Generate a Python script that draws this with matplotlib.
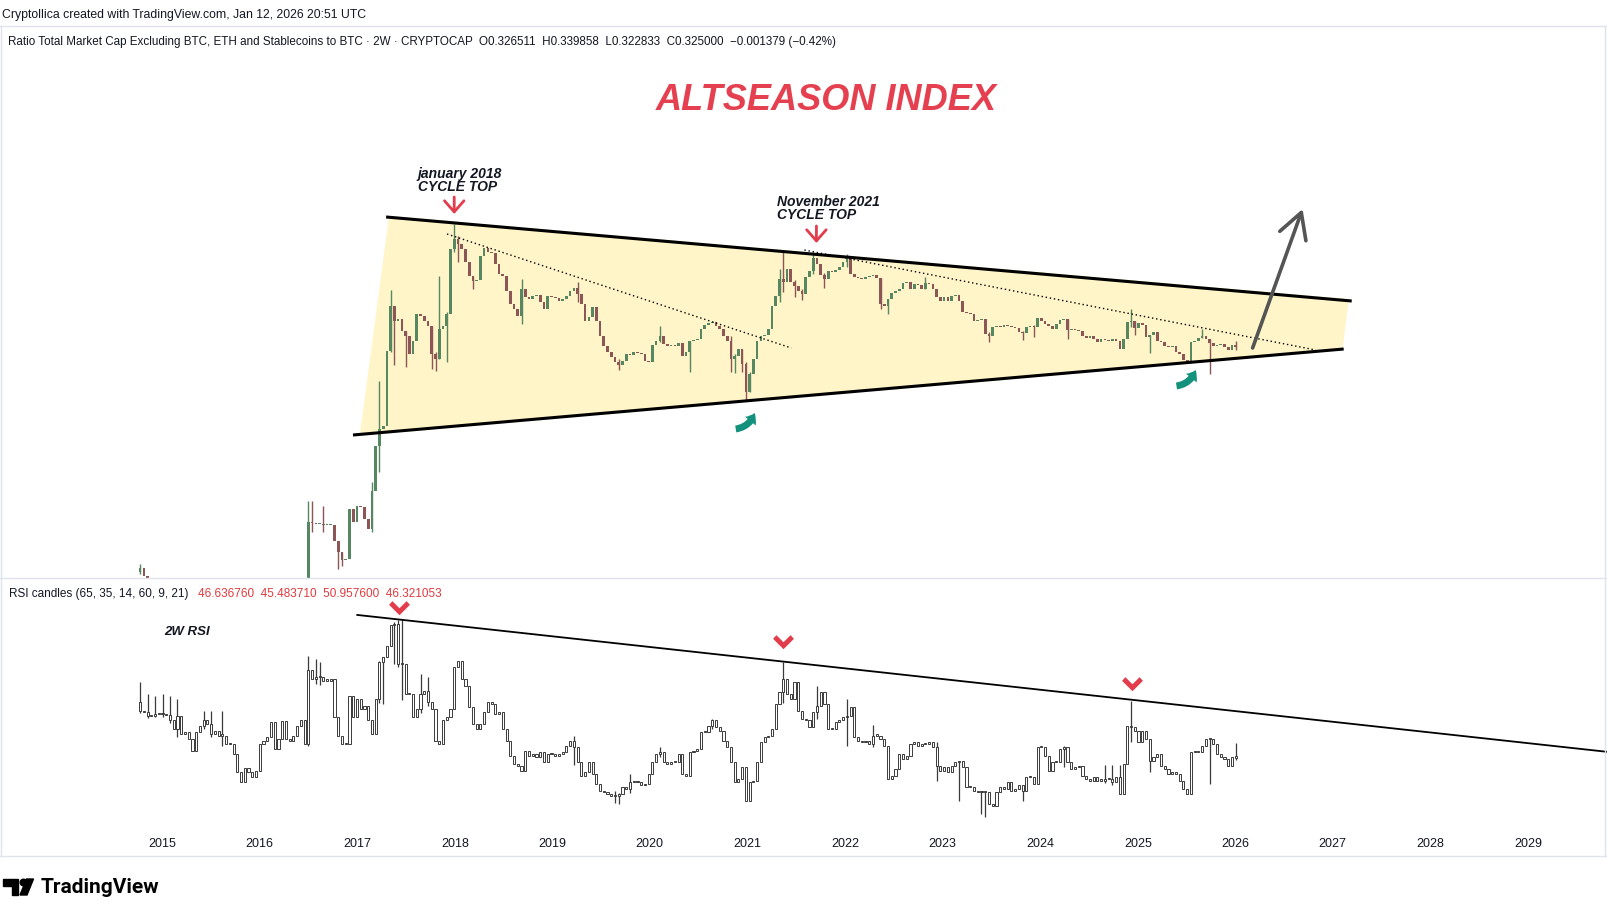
import numpy as np
import pandas as pd
import matplotlib
matplotlib.use('Agg')
import matplotlib.pyplot as plt
import matplotlib.dates as mdates
from matplotlib.patches import Polygon, FancyArrowPatch, Circle
from matplotlib.path import Path

plt.rcParams['font.family'] = ['Liberation Sans', 'DejaVu Sans']

# ---- data: 2W candles, first candle 2014-10-11 ----
first_candle = '2014-10-11'

price_open0 = 0.100
price_close = [
    0.104, 0.096, 0.091, 0.089, 0.090, 0.086, 0.083, 0.084, 0.080, 0.078,
    0.079, 0.076, 0.074, 0.075, 0.072, 0.071, 0.073, 0.070, 0.068, 0.069,
    0.067, 0.066, 0.068, 0.065, 0.066, 0.064, 0.066, 0.068, 0.067, 0.070,
    0.072, 0.071, 0.073, 0.076, 0.074, 0.077, 0.079, 0.078, 0.081, 0.083,
    0.082, 0.085, 0.087, 0.086, 0.089,
    # 2016 - 2020
    0.150, 0.149, 0.148, 0.148, 0.147, 0.147, 0.147, 0.131, 0.120, 0.112,
    0.113, 0.163, 0.150, 0.166, 0.165, 0.153, 0.143, 0.181, 0.226, 0.243,
    0.246, 0.321, 0.366, 0.351, 0.353, 0.341, 0.336, 0.318, 0.331, 0.358,
    0.356, 0.351, 0.346, 0.318, 0.313, 0.343, 0.346, 0.358, 0.423, 0.433,
    0.428, 0.423, 0.410, 0.396, 0.391, 0.392, 0.416, 0.424, 0.420, 0.419,
    0.408, 0.398, 0.396, 0.381, 0.368, 0.363, 0.356, 0.383, 0.375, 0.373,
    0.376, 0.377, 0.370, 0.363, 0.376, 0.375, 0.374, 0.371, 0.373, 0.376,
    0.381, 0.384, 0.378, 0.368, 0.351, 0.355, 0.365, 0.351, 0.336, 0.326,
    0.320, 0.315, 0.310, 0.307, 0.311, 0.318, 0.317, 0.320, 0.319, 0.318,
    0.311, 0.310, 0.327, 0.331, 0.336, 0.328, 0.326, 0.327, 0.326, 0.329,
    0.316, 0.320, 0.331, 0.332, 0.333, 0.343, 0.347, 0.349,
    # 2020 - 2023
    0.350, 0.346, 0.343, 0.336, 0.331, 0.313, 0.316, 0.323, 0.308, 0.280,
    0.298, 0.313, 0.331, 0.336, 0.337, 0.343, 0.366, 0.376, 0.393, 0.390,
    0.403, 0.390, 0.386, 0.381, 0.378, 0.395, 0.401, 0.414, 0.408, 0.397,
    0.393, 0.401, 0.400, 0.402, 0.405, 0.410, 0.413, 0.398, 0.395, 0.394,
    0.393, 0.395, 0.396, 0.397, 0.394, 0.368, 0.366, 0.373, 0.379, 0.381,
    0.383, 0.389, 0.390, 0.383, 0.388, 0.387, 0.383, 0.389, 0.388, 0.383,
    0.375, 0.371, 0.375, 0.371, 0.376, 0.377, 0.371, 0.360, 0.359, 0.358,
    0.351, 0.352, 0.353, 0.338, 0.336, 0.345, 0.346, 0.345, 0.347, 0.346,
    0.345, 0.344, 0.340, 0.339, 0.345, 0.346,
    # 2023 - 2026
    0.345, 0.354, 0.351, 0.348, 0.346, 0.343, 0.348, 0.352, 0.353, 0.342,
    0.343, 0.342, 0.341, 0.336, 0.334, 0.336, 0.333, 0.330, 0.333, 0.332,
    0.331, 0.333, 0.331, 0.323, 0.333, 0.350, 0.351, 0.344, 0.349, 0.347,
    0.335, 0.337, 0.340, 0.331, 0.330, 0.326, 0.325, 0.326, 0.320, 0.318,
    0.312, 0.310, 0.330, 0.331, 0.334, 0.336, 0.333, 0.329, 0.326, 0.327,
    0.328, 0.325, 0.322, 0.326511, 0.325000,
]
# candle index: (low, high) for the wicks that stand out
price_wicks = {
    0: (0.098, 0.108), 45: (0.089, 0.171), 46: (0.140, 0.171), 49: (0.140, 0.166),
    53: (0.103, 0.131), 54: (0.106, 0.120), 62: (0.140, 0.190), 64: (0.200, 0.291),
    67: (0.320, 0.382), 68: (0.307, 0.366), 71: (0.305, 0.341), 78: (0.303, 0.346),
    79: (0.301, 0.320), 80: (0.313, 0.396), 82: (0.310, 0.360), 84: (0.420, 0.448),
    85: (0.410, 0.436), 89: (0.383, 0.396), 102: (0.348, 0.393), 117: (0.370, 0.390),
    128: (0.302, 0.313), 139: (0.330, 0.346), 147: (0.300, 0.331),
    158: (0.300, 0.336), 159: (0.299, 0.318), 161: (0.300, 0.323), 162: (0.271, 0.310),
    163: (0.280, 0.300), 171: (0.370, 0.403), 172: (0.380, 0.420), 175: (0.375, 0.392),
    177: (0.372, 0.383), 180: (0.398, 0.420), 183: (0.384, 0.399), 189: (0.405, 0.418),
    198: (0.363, 0.394), 200: (0.358, 0.373), 210: (0.383, 0.395), 227: (0.330, 0.340),
    236: (0.332, 0.341), 239: (0.335, 0.347), 248: (0.333, 0.353), 265: (0.345, 0.363),
    266: (0.337, 0.351), 270: (0.319, 0.337), 284: (0.334, 0.343), 286: (0.298, 0.333),
    293: (0.322, 0.331),
}

rsi_open0 = 63.3
rsi_close = [
    60.7, 60.2, 59.0, 59.2, 59.7, 59.9, 59.7, 59.4, 57.7, 55.1,
    59.2, 53.6, 54.1, 52.0, 48.5, 54.1, 56.1, 57.7, 56.6, 53.6,
    54.6, 53.1, 53.1, 50.5, 50.5, 47.4, 41.8, 39.0, 43.1, 41.8,
    40.3, 42.3, 50.5, 51.5, 52.6, 57.2, 49.0, 52.0, 57.4, 52.0,
    51.5, 53.1, 56.1, 57.7, 50.5, 73.0, 70.4, 70.9, 70.9, 69.9,
    69.9, 70.4, 58.7, 53.1, 50.5, 50.5, 65.3, 58.7, 64.3, 61.2,
    62.2, 57.7, 53.6, 64.3, 75.5, 77.0, 80.6, 86.9, 87.2, 75.0,
    75.0, 65.8, 65.8, 58.7, 61.2, 65.8, 66.8, 63.3, 61.2, 51.5,
    50.5, 57.7, 58.7, 61.2, 74.0, 76.0, 70.4, 68.4, 61.7, 56.6,
    55.1, 56.6, 60.2, 63.3, 62.7, 59.7, 60.2, 55.1, 51.5, 46.9,
    44.4, 43.9, 42.3, 48.5, 46.9, 47.4, 46.4, 47.9, 44.9, 47.4,
    47.4, 46.9, 47.4, 47.9, 50.0, 51.5, 49.5, 44.9, 40.8, 41.8,
    44.9, 41.3, 38.3, 36.2, 35.7, 35.2, 34.5, 34.7, 35.2, 37.3,
    36.7, 38.8, 39.3, 38.8, 37.8, 38.3, 41.3, 44.9, 47.4, 47.9,
    44.9, 44.4, 44.9, 44.9, 47.4, 41.3, 40.8,
    47.9, 48.5, 49.0, 54.1, 54.3, 56.1, 57.7, 55.6, 54.6, 51.5,
    49.5, 44.9, 38.8, 39.8, 43.4, 33.2, 38.8, 39.3, 44.9, 51.0,
    52.6, 53.1, 55.1, 62.7, 66.3, 70.4, 65.8, 64.3, 69.4, 60.7,
    58.2, 57.7, 55.6, 60.2, 62.2, 66.3, 62.7, 55.1, 55.1, 57.2,
    57.7, 58.7, 59.2, 61.7, 52.6, 51.5, 51.0, 51.5, 50.5, 53.1,
    53.1, 52.0, 50.0, 39.8, 40.8, 42.9, 47.4, 45.9, 46.9, 50.5,
    51.0, 50.0, 50.5, 50.5, 51.0, 49.5, 43.9, 42.3, 43.4,
    41.8, 43.9, 44.9, 45.4, 43.4, 37.3, 37.3, 36.2, 35.7, 36.2,
    35.7, 32.1, 31.6, 35.7, 37.3, 36.7, 38.8, 36.2, 36.7,
    37.8, 36.2, 40.3, 40.3, 38.3, 49.5, 49.5, 46.9, 42.3, 44.9,
    44.9, 49.0, 49.5, 44.9, 42.9, 43.4, 43.9, 40.8, 39.8, 39.3,
    40.3, 39.3, 39.3, 39.8, 39.8, 38.8, 40.3, 35.2, 44.4,
    56.1, 55.6, 54.6, 51.0, 54.6, 52.0, 45.4, 46.4, 47.4, 43.9,
    42.9, 41.3, 41.8, 41.3, 39.3, 36.7, 35.2, 47.9, 47.9, 48.1,
    50.0, 52.0, 52.0, 50.5, 47.4, 46.4, 45.9, 43.9, 46.636760, 46.321053,
]
rsi_wicks = {
    0: (60.0, 69.4), 2: (58.5, 65.8), 4: (58.8, 65.3), 6: (58.9, 65.8), 8: (57.0, 65.3),
    10: (52.5, 64.3), 17: (55.0, 60.7), 19: (52.5, 60.7), 22: (50.0, 60.7),
    45: (50.0, 77.5), 47: (69.0, 76.5), 48: (68.5, 75.5), 64: (63.0, 76.0),
    65: (62.7, 76.0), 68: (75.0, 87.8), 69: (74.0, 88.3), 70: (64.0, 88.3),
    75: (60.0, 72.0), 77: (62.0, 71.0), 116: (44.0, 53.0), 127: (32.3, 36.0),
    128: (32.0, 35.5), 131: (35.5, 41.3), 139: (46.5, 49.5), 153: (55.0, 58.2),
    172: (63.0, 75.5), 181: (58.0, 68.4), 189: (50.0, 64.3), 196: (49.5, 56.3),
    213: (39.3, 51.0), 219: (33.2, 36.5), 225: (29.1, 36.0), 226: (28.1, 35.0),
    236: (33.2, 37.0), 247: (43.5, 50.0), 258: (38.5, 44.0), 260: (38.0, 44.0),
    262: (38.5, 44.0), 265: (51.0, 63.8), 270: (41.8, 46.0), 286: (38.3, 46.5),
    293: (45.483710, 50.957600),
}

years = list(range(2015, 2030))

# drawings on the chart: (date, value) anchors
upper_line = [('2017-04-19', 0.455), ('2027-03-13', 0.371)]
lower_line = [('2016-12-16', 0.237), ('2027-02-11', 0.323)]
wedge_fill = [('2017-04-30', 0.456), ('2027-03-02', 0.373),
              ('2027-02-07', 0.323), ('2017-01-11', 0.238)]
dotted_2018 = [('2017-12-03', 0.438), ('2021-06-14', 0.324)]
dotted_2021 = [('2021-08-02', 0.422), ('2026-10-29', 0.322)]
breakout = [('2026-03-07', 0.324), ('2026-09-10', 0.463)]
top_arrows = [('2017-12-30', 0.475, 0.458), ('2021-09-16', 0.446, 0.429)]
bounce_arrows = [(('2020-11-18', 0.243), ('2021-01-28', 0.259)),
                 (('2025-05-26', 0.286), ('2025-08-06', 0.302))]
rsi_line = [('2017-01-01', 90.0), ('2029-12-31', 47.5)]
rsi_tops_dates = ['2017-06-07', '2021-05-15', '2024-12-09']
rsi_tops_vals = [91.8, 81.4, 68.6]

GREEN = '#568760'
RED = '#8c5656'
PINK = '#e23c4d'
TEAL = '#12917d'
TXT = '#131722'
FRAME = '#e0e3eb'

W, H = 1607, 904
fig = plt.figure(figsize=(W / 100, H / 100), dpi=100)
fig.patch.set_facecolor('white')


def d(s):
    return mdates.date2num(pd.Timestamp(s))


ppd = (1528 - 162) / (d('2029-01-01') - d('2015-01-01'))
x_left = d('2015-01-01') - 162 / ppd
x_right = x_left + W / ppd

ax = fig.add_axes([0, 1 - 579 / H, 1, (579 - 28) / H])
ax2 = fig.add_axes([0, 1 - 836 / H, 1, (836 - 580) / H])
for a in (ax, ax2):
    a.set_xlim(x_left, x_right)
    for s in a.spines.values():
        s.set_visible(False)
    a.set_yticks([])
    a.patch.set_alpha(0)
ax.set_xticks([])
ax.set_ylim(0.094, 0.645)
ax2.set_ylim(22.65, 101.0)

# ---- price candles ----
pc = np.array(price_close)
po = np.r_[price_open0, pc[:-1]]
pdates = pd.date_range(first_candle, periods=len(pc), freq='14D')
pcol = np.where(pc >= po, GREEN, RED)
p_lo = np.minimum(po, pc)
p_h = np.maximum(np.abs(pc - po), 0.0012)
for i, (lo, hi) in price_wicks.items():
    ax.vlines(pdates[i], min(lo, p_lo[i]), max(hi, p_lo[i] + p_h[i]),
              color=pcol[i], lw=1, zorder=2)
ax.bar(pdates, p_h, bottom=p_lo, width=10, color=pcol, lw=0, zorder=3)

# wedge
ax.add_patch(Polygon([(d(t), v) for t, v in wedge_fill], closed=True,
                     facecolor='#fff5c8', edgecolor='none', zorder=1))
for line in (upper_line, lower_line):
    ax.plot([pd.Timestamp(t) for t, _ in line], [v for _, v in line],
            color='black', lw=2.2, zorder=4, solid_capstyle='butt')
for line in (dotted_2018, dotted_2021):
    ax.plot([pd.Timestamp(t) for t, _ in line], [v for _, v in line],
            color='black', lw=1, ls=(0, (1, 2)), zorder=4)

ax.add_patch(FancyArrowPatch((d(breakout[0][0]), breakout[0][1]),
                             (d(breakout[1][0]), breakout[1][1]),
                             arrowstyle='->,head_length=0.9,head_width=0.5',
                             shrinkA=0, shrinkB=0,
                             mutation_scale=20, lw=2.6, color='#555555', zorder=5))
for t, v0, v1 in top_arrows:
    ax.add_patch(FancyArrowPatch((d(t), v0), (d(t), v1),
                                 arrowstyle='->,head_length=0.4,head_width=0.35',
                                 shrinkA=0, shrinkB=0,
                                 mutation_scale=20, lw=2.0, color=PINK, zorder=5))
for (t0, v0), (t1, v1) in bounce_arrows:
    ax.add_patch(FancyArrowPatch((d(t0), v0), (d(t1), v1),
                                 connectionstyle='arc3,rad=0.3',
                                 arrowstyle='simple,head_length=0.6,head_width=0.9,tail_width=0.45',
                                 shrinkA=0, shrinkB=0,
                                 mutation_scale=11, lw=0, color=TEAL, zorder=5))

ax.text(d('2017-08-16'), 0.479, 'january 2018\nCYCLE TOP', ha='left', va='bottom',
        fontsize=10, fontweight='bold', style='italic', color=TXT, linespacing=0.95)
ax.text(d('2021-04-20'), 0.451, 'November 2021\nCYCLE TOP', ha='left', va='bottom',
        fontsize=10, fontweight='bold', style='italic', color=TXT, linespacing=0.95)

# ---- RSI candles ----
rc = np.array(rsi_close)
ro = np.r_[rsi_open0, rc[:-1]]
rdates = pd.date_range(first_candle, periods=len(rc), freq='14D')
r_lo = np.minimum(ro, rc)
r_h = np.maximum(np.abs(rc - ro), 0.4)
for i, (lo, hi) in rsi_wicks.items():
    ax2.vlines(rdates[i], min(lo, r_lo[i]), max(hi, r_lo[i] + r_h[i]),
               color='#3a3a3a', lw=0.9, zorder=2)
ax2.bar(rdates, r_h, bottom=r_lo, width=8, color='white', edgecolor='#3a3a3a',
        lw=0.7, zorder=3)
ax2.plot([pd.Timestamp(t) for t, _ in rsi_line], [v for _, v in rsi_line],
         color='black', lw=1.3, zorder=4)
chev = Path([(-1, 0.45), (-0.68, 0.8), (0, 0.12), (0.68, 0.8), (1, 0.45),
             (0, -0.55), (-1, 0.45)], closed=True)
ax2.plot(pd.to_datetime(rsi_tops_dates), rsi_tops_vals, ls='none', marker=chev,
         ms=15, color=PINK, mec='none', zorder=5)

ax2.set_xticks([d(f'{y}-01-01') for y in years])
ax2.set_xticklabels([str(y) for y in years], fontsize=9, color=TXT)
ax2.tick_params(axis='x', length=0, pad=1.5)

# ---- overlay in pixel coords: header, frame, logo ----
ov = fig.add_axes([0, 0, 1, 1])
ov.set_xlim(0, W)
ov.set_ylim(H, 0)
ov.axis('off')
ov.patch.set_alpha(0)

ov.plot([0, W], [27, 27], color=FRAME, lw=1)
ov.plot([0, W], [579, 579], color=FRAME, lw=1)
ov.plot([0, W], [857, 857], color=FRAME, lw=1)
ov.plot([1, 1], [27, 857], color=FRAME, lw=1)
ov.plot([W - 2, W - 2], [27, 857], color=FRAME, lw=1)

ov.text(2, 15, 'Cryptollica created with TradingView.com, Jan 12, 2026 20:51 UTC',
        fontsize=8.8, color=TXT, va='center', ha='left')
ov.text(8, 42, 'Ratio Total Market Cap Excluding BTC, ETH and Stablecoins to BTC · 2W · CRYPTOCAP'
        '  O0.326511  H0.339858  L0.322833  C0.325000  \u22120.001379 (\u22120.42%)',
        fontsize=8.4, color=TXT, va='center', ha='left')
ov.text(9, 594, 'RSI candles (65, 35, 14, 60, 9, 21)', fontsize=8.5, color=TXT,
        va='center', ha='left')
ov.text(198, 594, '46.636760  45.483710  50.957600  46.321053', fontsize=8.5,
        color='#e03a3e', va='center', ha='left')
ov.text(164, 632, '2W RSI', fontsize=9.5, fontweight='bold', style='italic',
        color=TXT, va='center', ha='left')
ov.text(826, 101, 'ALTSEASON INDEX', fontsize=26, fontweight='bold', style='italic',
        color='#e5404f', va='center', ha='center')

# TradingView logo
ov.add_patch(Polygon([(3, 880), (18, 880), (18, 896), (11.5, 896), (11.5, 887), (3, 887)],
                     closed=True, color='black'))
ov.add_patch(Circle((23.5, 883.5), 3.3, color='black'))
ov.add_patch(Polygon([(20, 896), (27, 896), (33.5, 880), (26.5, 880)], closed=True,
                     color='black'))
ov.text(41, 888, 'TradingView', fontsize=15, fontweight='bold', family='Roboto',
        color='black', va='center', ha='left')

fig.savefig('out.png', dpi=100)
